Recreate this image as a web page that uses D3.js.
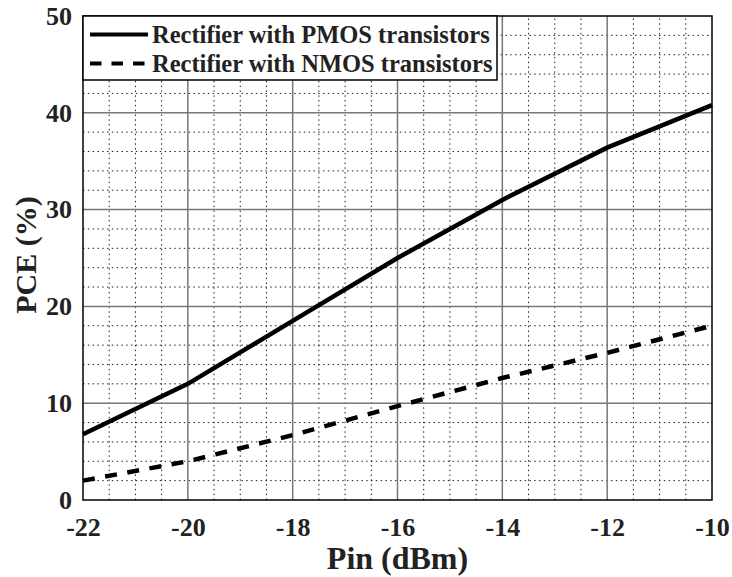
<!DOCTYPE html>
<html>
<head>
<meta charset="utf-8">
<script src="https://cdn.jsdelivr.net/npm/d3@7"></script>
<style>
  body { margin: 0; background: #fff; }
  text { font-family: "Liberation Serif", "Times New Roman", serif; font-weight: bold; fill: #222; }
</style>
</head>
<body>
<svg width="732" height="577"></svg>
<script>
const pin = [-22, -20, -18, -16, -14, -12, -10]
const pmos = [6.8, 12, 18.5, 25, 31, 36.4, 40.8]
const nmos = [2.0, 4.0, 6.7, 9.7, 12.6, 15.2, 18.0]
const xTicks = [-22, -20, -18, -16, -14, -12, -10]
const yTicks = [0, 10, 20, 30, 40, 50]
const seriesNames = ["Rectifier with PMOS transistors", "Rectifier with NMOS transistors"]

const margin = {left: 83, right: 20, top: 16, bottom: 77}
const width = 732, height = 577
const svg = d3.select("svg")

const x = d3.scaleLinear().domain([-22, -10]).range([margin.left, width - margin.right])
const y = d3.scaleLinear().domain([0, 50]).range([height - margin.bottom, margin.top])

// minor grid
const xMinor = d3.range(-22, -10, 0.5).filter(v => v % 2 !== 0)
const yMinor = d3.range(0, 50, 2).filter(v => v % 10 !== 0)
svg.append("g").selectAll("line").data(xMinor).enter().append("line")
  .attr("x1", d => x(d)).attr("x2", d => x(d))
  .attr("y1", y(0)).attr("y2", y(50))
  .attr("stroke", "#222").attr("stroke-width", 1).attr("stroke-dasharray", "1.5,3.3")
svg.append("g").selectAll("line").data(yMinor).enter().append("line")
  .attr("y1", d => y(d)).attr("y2", d => y(d))
  .attr("x1", x(-22)).attr("x2", x(-10))
  .attr("stroke", "#222").attr("stroke-width", 1).attr("stroke-dasharray", "1.5,3.3")

// major grid
svg.append("g").selectAll("line").data(xTicks.slice(1, -1)).enter().append("line")
  .attr("x1", d => x(d)).attr("x2", d => x(d))
  .attr("y1", y(0)).attr("y2", y(50))
  .attr("stroke", "#777").attr("stroke-width", 1.5)
svg.append("g").selectAll("line").data(yTicks.slice(1, -1)).enter().append("line")
  .attr("y1", d => y(d)).attr("y2", d => y(d))
  .attr("x1", x(-22)).attr("x2", x(-10))
  .attr("stroke", "#777").attr("stroke-width", 1.5)

// frame
svg.append("rect")
  .attr("x", x(-22)).attr("y", y(50))
  .attr("width", x(-10) - x(-22)).attr("height", y(0) - y(50))
  .attr("fill", "none").attr("stroke", "#000").attr("stroke-width", 1.5)

// axes labels
const xAxis = d3.axisBottom(x).tickValues(xTicks).tickFormat(d => String(d)).tickSize(0).tickPadding(18)
const yAxis = d3.axisLeft(y).tickValues(yTicks).tickFormat(d => String(d)).tickSize(0).tickPadding(11)
const gx = svg.append("g").attr("transform", `translate(0,${y(0)})`).call(xAxis)
const gy = svg.append("g").attr("transform", `translate(${x(-22)},0)`).call(yAxis)
gx.select(".domain").remove()
gy.select(".domain").remove()
gx.selectAll("text").style("font-size", "26px").style("font-family", "Liberation Serif").attr("fill", "#222")
gy.selectAll("text").style("font-size", "26px").style("font-family", "Liberation Serif").attr("fill", "#222")

svg.append("text").attr("x", x(-16)).attr("y", 569)
  .attr("text-anchor", "middle").style("font-size", "32px").text("Pin (dBm)")
svg.append("text")
  .attr("transform", `translate(36,${(y(0) + y(50)) / 2 - 3}) rotate(-90)`)
  .attr("text-anchor", "middle").style("font-size", "30px").text("PCE (%)")

// lines
const line = d3.line().x((d, i) => x(pin[i])).y(d => y(d))
svg.append("path").datum(pmos).attr("d", line)
  .attr("fill", "none").attr("stroke", "#000").attr("stroke-width", 4.5)
svg.append("path").datum(nmos).attr("d", line)
  .attr("fill", "none").attr("stroke", "#000").attr("stroke-width", 4.5)
  .attr("stroke-dasharray", "12,10.5")

// legend
const lg = svg.append("g").attr("transform", `translate(${x(-22)},${y(50)})`)
lg.append("rect").attr("width", 414).attr("height", 64)
  .attr("fill", "#fff").attr("stroke", "#000").attr("stroke-width", 1.5)
const dashes = [null, "11.5,10"]
seriesNames.forEach((name, i) => {
  const cy = 18.5 + i * 29
  lg.append("line").attr("x1", 7).attr("x2", 65).attr("y1", cy).attr("y2", cy)
    .attr("stroke", "#000").attr("stroke-width", 4)
    .attr("stroke-dasharray", dashes[i])
  lg.append("text").attr("x", 69).attr("y", cy + 8)
    .style("font-size", "24.5px").attr("fill", "#000").text(name)
})
</script>
</body>
</html>
